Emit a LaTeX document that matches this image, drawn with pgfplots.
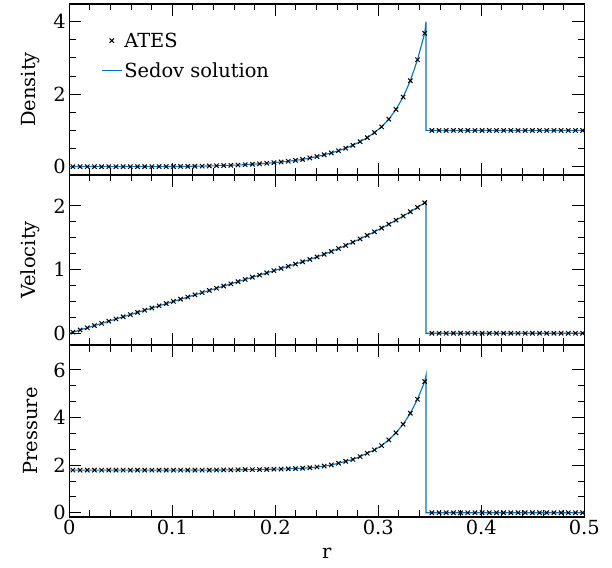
\documentclass[border=0pt]{standalone}
\usepackage{fontspec}
\setmainfont{DejaVu Serif}
\usepackage{pgfplots}
\usepackage{pgfplotstable}
\pgfplotsset{compat=1.18}
\definecolor{sedov}{RGB}{0,114,189}
\newcommand{\fs}{\fontsize{19.5}{22}\selectfont}

\pgfplotstableread{
r rho v p
0.00350 0.0000 0.017 1.79
0.01047 0.0000 0.052 1.79
0.01744 0.0000 0.086 1.79
0.02441 0.0000 0.121 1.79
0.03138 0.0000 0.155 1.79
0.03835 0.0000 0.190 1.79
0.04532 0.0001 0.224 1.79
0.05229 0.0003 0.259 1.79
0.05926 0.0005 0.293 1.79
0.06623 0.0008 0.328 1.79
0.07320 0.0012 0.362 1.79
0.08017 0.0019 0.397 1.79
0.08714 0.0027 0.431 1.79
0.09411 0.0038 0.466 1.79
0.10108 0.0053 0.500 1.79
0.10805 0.0072 0.535 1.79
0.11502 0.0095 0.569 1.79
0.12199 0.0123 0.604 1.79
0.12896 0.0158 0.638 1.79
0.13593 0.0201 0.673 1.79
0.14290 0.0252 0.707 1.795
0.14987 0.0312 0.742 1.80
0.15684 0.0383 0.776 1.80
0.16381 0.0465 0.811 1.805
0.17078 0.0560 0.845 1.81
0.17775 0.0670 0.880 1.81
0.18472 0.0800 0.914 1.815
0.19169 0.0940 0.949 1.82
0.19866 0.1110 0.983 1.83
0.20563 0.1290 1.018 1.835
0.21260 0.1500 1.052 1.845
0.21957 0.1740 1.087 1.855
0.22654 0.2000 1.122 1.87
0.23351 0.2400 1.160 1.89
0.24048 0.2800 1.199 1.92
0.24745 0.3300 1.241 1.96
0.25442 0.3800 1.285 2.01
0.26139 0.4400 1.331 2.08
0.26836 0.5100 1.379 2.16
0.27533 0.5900 1.430 2.24
0.28230 0.6900 1.482 2.36
0.28927 0.8000 1.537 2.50
0.29624 0.9400 1.593 2.64
0.30321 1.1000 1.652 2.82
0.31018 1.3100 1.712 3.06
0.31715 1.5800 1.776 3.36
0.32412 1.9200 1.840 3.72
0.33109 2.3700 1.908 4.18
0.33806 2.9500 1.977 4.77
0.34503 3.6800 2.049 5.51
0.35200 1.0000 0.000 0.00
0.35897 1.0000 0.000 0.00
0.36594 1.0000 0.000 0.00
0.37291 1.0000 0.000 0.00
0.37988 1.0000 0.000 0.00
0.38685 1.0000 0.000 0.00
0.39382 1.0000 0.000 0.00
0.40079 1.0000 0.000 0.00
0.40776 1.0000 0.000 0.00
0.41473 1.0000 0.000 0.00
0.42170 1.0000 0.000 0.00
0.42867 1.0000 0.000 0.00
0.43564 1.0000 0.000 0.00
0.44261 1.0000 0.000 0.00
0.44958 1.0000 0.000 0.00
0.45655 1.0000 0.000 0.00
0.46352 1.0000 0.000 0.00
0.47049 1.0000 0.000 0.00
0.47746 1.0000 0.000 0.00
0.48443 1.0000 0.000 0.00
0.49140 1.0000 0.000 0.00
0.49837 1.0000 0.000 0.00
}\ates

\pgfplotstableread{
r rho v p
0.00000 0.0000 0.000 1.79
0.00350 0.0000 0.017 1.79
0.01744 0.0000 0.086 1.79
0.03138 0.0000 0.155 1.79
0.04532 0.0001 0.224 1.79
0.05926 0.0005 0.293 1.79
0.07320 0.0012 0.362 1.79
0.08714 0.0027 0.431 1.79
0.10108 0.0053 0.500 1.79
0.11502 0.0095 0.569 1.79
0.12896 0.0158 0.638 1.79
0.14290 0.0252 0.707 1.795
0.15684 0.0383 0.776 1.80
0.17078 0.0560 0.845 1.81
0.18472 0.0800 0.914 1.815
0.19866 0.1110 0.983 1.83
0.21260 0.1500 1.052 1.845
0.22654 0.2000 1.122 1.87
0.23351 0.2400 1.160 1.89
0.24048 0.2800 1.199 1.92
0.24745 0.3300 1.241 1.96
0.25442 0.3800 1.285 2.01
0.26139 0.4400 1.331 2.08
0.26836 0.5100 1.379 2.16
0.27533 0.5900 1.430 2.24
0.28230 0.6900 1.482 2.36
0.28927 0.8000 1.537 2.50
0.29624 0.9400 1.593 2.64
0.30321 1.1000 1.652 2.82
0.31018 1.3100 1.712 3.06
0.31715 1.5800 1.776 3.36
0.32412 1.9200 1.840 3.72
0.33109 2.3700 1.908 4.18
0.33806 2.9500 1.977 4.77
0.34503 3.6800 2.049 5.51
0.34630 4.0000 2.070 5.77
0.34630 1.0000 0.000 0.00
0.50000 1.0000 0.000 0.00
}\sedovtab

\pgfplotsset{
  panel/.style={
    scale only axis, width=515bp,
    xmin=0, xmax=0.5,
    xtick={0,0.1,0.2,0.3,0.4,0.5}, minor x tick num=4,
    xtick pos=both, ytick pos=both,
    tick align=inside,
    major tick length=12bp, minor tick length=6.5bp,
    axis line style={line width=1.4pt},
    every tick/.style={line width=1pt, black},
    /pgf/number format/assume math mode=true,
    tick label style={font=\fs},
    label style={font=\fs},
    ylabel style={at={(axis description cs:-0.076,0.5)}, anchor=center},
    anchor=south west,
    legend image code/.code={\draw[mark repeat=2,mark phase=2,##1] plot coordinates {(0bp,0bp) (10bp,0bp) (20bp,0bp)};},
  },
  sedovline/.style={color=sedov, line width=1.1pt, no markers},
  atesmark/.style={only marks, mark=x, mark size=3.1pt, black, mark options={line width=1pt}},
}

\begin{document}
\begin{tikzpicture}
\useasboundingbox (0bp,0bp) rectangle (612bp,568bp);

\begin{axis}[panel, at={(69.3bp,393bp)}, height=171bp,
  ymin=-0.229, ymax=4.488, ytick={0,2,4}, minor y tick num=3,
  xticklabels={}, ylabel={Density},
  reverse legend,
  legend cell align=left,
  legend style={at={(axis description cs:0.0616,0.845)}, anchor=north west,
    draw=none, fill=none, font=\fs, inner sep=0pt, row sep=10bp}]
\addplot[sedovline] table[x=r, y=rho] {\sedovtab};
\addlegendentry{Sedov solution}
\addplot[atesmark] table[x=r, y=rho] {\ates};
\addlegendentry{ATES}
\end{axis}

\begin{axis}[panel, at={(69.3bp,223bp)}, height=170bp,
  ymin=-0.184, ymax=2.485, ytick={0,1,2}, minor y tick num=3,
  xticklabels={}, ylabel={Velocity}]
\addplot[sedovline] table[x=r, y=v] {\sedovtab};
\addplot[atesmark] table[x=r, y=v] {\ates};
\end{axis}

\begin{axis}[panel, at={(69.3bp,51bp)}, height=172bp,
  ymin=-0.18, ymax=7.05, ytick={0,2,4,6}, minor y tick num=2,
  xlabel={r}, ylabel={Pressure},
  xlabel style={at={(axis description cs:0.5,-0.209)}, anchor=center}]
\addplot[sedovline] table[x=r, y=p] {\sedovtab};
\addplot[atesmark] table[x=r, y=p] {\ates};
\end{axis}
\end{tikzpicture}
\end{document}
